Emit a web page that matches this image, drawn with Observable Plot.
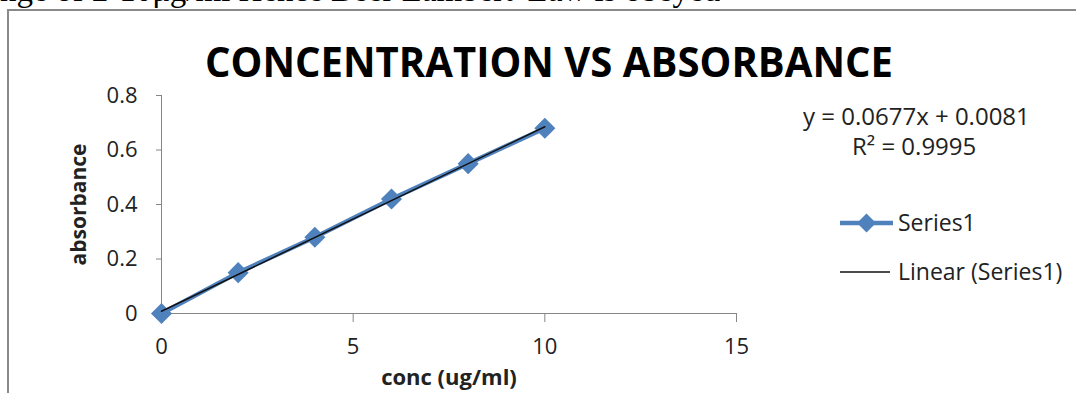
<!DOCTYPE html>
<html>
<head>
<meta charset="utf-8">
<script src="https://cdn.jsdelivr.net/npm/d3@7"></script>
<script src="https://cdn.jsdelivr.net/npm/@observablehq/plot@0.6"></script>
<style>
  html, body { margin: 0; padding: 0; background: #fff; overflow: hidden; }
  #wrap { position: relative; width: 1076px; height: 393px; overflow: hidden; }
  #frame { position: absolute; left: 7px; top: 9px; width: 1100px; height: 400px;
           border-left: 2px solid #8a8a8a; border-top: 2px solid #8a8a8a; box-sizing: border-box; }
  #pretext { position: absolute; left: 0; top: -28px; font-family: "Liberation Serif", serif;
             font-size: 33px; line-height: normal; color: #000; white-space: nowrap; }
  #plot { position: absolute; left: 0; top: 0; }
  .ov { position: absolute; font-family: "Open Sans", sans-serif; color: #222; white-space: nowrap; }
</style>
</head>
<body>
<div id="wrap">
  <div id="pretext">nge of 2-10μg/ml Hence Beer Lambert' Law is obeyed</div>
  <div id="frame"></div>
  <div id="plot"></div>
  <svg id="titlesvg" width="1076" height="100" style="position:absolute;left:0;top:0">
    <text id="title" x="549" y="77" text-anchor="middle" font-family="'Open Sans', sans-serif"
          font-weight="700" font-size="42" fill="#000" textLength="688" lengthAdjust="spacingAndGlyphs"></text>
  </svg>
  <div class="ov" id="eq1" style="left:803px; top:99px; font-size:24px;"></div>
  <div class="ov" id="eq2" style="left:852px; top:129px; font-size:24px;"></div>
  <div id="legend"></div>
</div>
<script>
const titleText = "CONCENTRATION VS ABSORBANCE";
const xLabel = "conc (ug/ml)";
const yLabel = "absorbance";
const conc = [0, 2, 4, 6, 8, 10];
const absorbance = [0, 0.15, 0.28, 0.42, 0.55, 0.68];
const xTicks = [0, 5, 10, 15];
const yTicks = [0, 0.2, 0.4, 0.6, 0.8];
const seriesName = "Series1";
const trendName = "Linear (Series1)";
const equationText = "y = 0.0677x + 0.0081";
const r2Text = "R² = 0.9995";

const seriesColor = "#4F81BD";
const font = "'Open Sans', sans-serif";
const data = conc.map((c, i) => ({conc: c, abs: absorbance[i]}));

document.getElementById("title").textContent = titleText;
document.getElementById("eq1").textContent = equationText;
document.getElementById("eq2").textContent = r2Text;

const chart = Plot.plot({
  width: 1076,
  height: 393,
  marginLeft: 161,
  marginRight: 340,
  marginTop: 95,
  marginBottom: 80,
  style: {background: "transparent", fontFamily: font, fontSize: "22px", color: "#222", overflow: "visible"},
  x: {domain: [0, 15]},
  y: {domain: [0, 0.8]},
  marks: [
    Plot.ruleY([0], {stroke: "#868686", strokeWidth: 1}),
    Plot.ruleX([0], {stroke: "#868686", strokeWidth: 1}),
    Plot.axisX({ticks: xTicks, tickSize: 9, tickPadding: 16, stroke: "#868686", tickFormat: d => String(d),
      label: xLabel, labelAnchor: "center", labelArrow: "none", labelOffset: 71}),
    Plot.axisY({ticks: yTicks, tickSize: 5, tickPadding: 19, stroke: "#868686", tickFormat: d => d === 0 ? "0" : d.toFixed(1),
      label: yLabel, labelAnchor: "center", labelArrow: "none", labelOffset: 90}),
    Plot.line(data, {x: "conc", y: "abs", stroke: seriesColor, strokeWidth: 4.5}),
    Plot.dot(data, {x: "conc", y: "abs", symbol: "diamond2", r: 9.5, fill: seriesColor, stroke: "none"}),
    Plot.linearRegressionY(data, {x: "conc", y: "abs", stroke: "#111", strokeWidth: 1.5, ci: 0})
  ]
});
document.getElementById("plot").appendChild(chart);
// bold axis labels
chart.querySelectorAll("[aria-label='x-axis label'] text").forEach(t => {
  t.setAttribute("font-weight", "bold"); t.setAttribute("font-size", 22);
});
chart.querySelectorAll("[aria-label='y-axis label'] text").forEach(t => {
  t.setAttribute("font-weight", "bold"); t.setAttribute("font-size", 21);
});

// legend
const leg = d3.select("#legend").append("svg")
  .attr("width", 1076).attr("height", 393)
  .style("position", "absolute").style("left", "0px").style("top", "0px");
const l1 = leg.append("g").attr("transform", "translate(840,223)");
l1.append("line").attr("x1", 0).attr("x2", 53).attr("stroke", seriesColor).attr("stroke-width", 4.5);
l1.append("path").attr("d", d3.symbol(d3.symbolDiamond2, 230)()).attr("transform", "translate(26.5,0)").attr("fill", seriesColor);
l1.append("text").attr("x", 58).attr("y", 0).attr("dy", "0.35em").text(seriesName)
  .attr("font-family", font).attr("font-size", 23).attr("fill", "#222");
const l2 = leg.append("g").attr("transform", "translate(840,272)");
l2.append("line").attr("x1", 0).attr("x2", 50).attr("stroke", "#111").attr("stroke-width", 1.3);
l2.append("text").attr("x", 58).attr("y", 0).attr("dy", "0.35em").text(trendName)
  .attr("font-family", font).attr("font-size", 23).attr("fill", "#222");
</script>
</body>
</html>
